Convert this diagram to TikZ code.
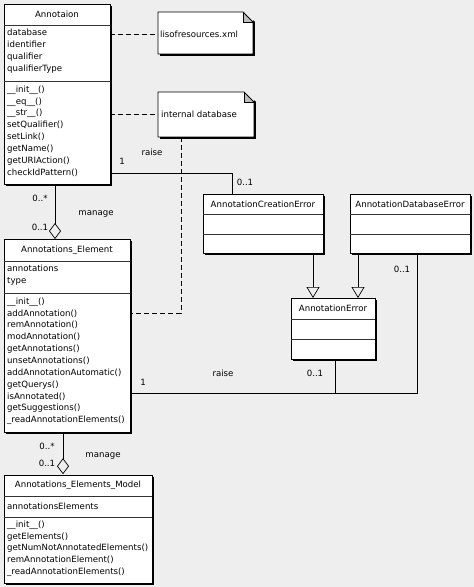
\documentclass[tikz,border=0pt]{standalone}
\usepackage{fontspec}
\setmainfont{DejaVu Sans}
\usetikzlibrary{arrows.meta}
\definecolor{bg}{RGB}{238,238,238}
\definecolor{foldgray}{RGB}{190,190,190}
\tikzset{
  box/.style={draw=black, fill=white, line width=0.8pt, anchor=north west, inner sep=0pt, outer sep=0pt},
  sepline/.style={draw=black!80, line width=0.7pt},
  txt/.style={font=\fontsize{8.6}{11.85}\selectfont, inner sep=0pt, align=left, anchor=west},
  ttl/.style={font=\fontsize{8.6}{11.85}\selectfont, inner sep=0pt},
  lbl/.style={font=\fontsize{8.6}{11.85}\selectfont, inner sep=0pt},
  assoc/.style={draw=black, line width=0.7pt},
  dashedlink/.style={draw=black, line width=0.7pt, dash pattern=on 5pt off 3pt},
  gen/.style={assoc, -{Triangle[open, width=13pt, length=11pt, line width=0.7pt]}},
  agg/.style={assoc, -{Diamond[open, width=12pt, length=16pt, line width=0.7pt]}},
}
\newcommand\umlbox[5]{%
  \fill[black] (#2+2.2,#3+2.2) rectangle (#4+2.2,#5+2.2);
  \node[box, minimum width={(#4-#2)*1pt}, minimum height={(#5-#3)*1pt}] (#1) at (#2,#3) {};
}
\newcommand\umlnote[5]{%
  \fill[black] (#2+2.2,#3+2.2) rectangle (#4+2.2,#5+2.2);
  \node[box, draw=none, minimum width={(#4-#2)*1pt}, minimum height={(#5-#3)*1pt}] (#1) at (#2,#3) {};
  \fill[bg] (#4-10,#3) -- (#4+2.5,#3) -- (#4+2.5,#3+10) -- cycle;
  \fill[foldgray] (#4-10,#3) -- (#4-10,#3+10) -- (#4,#3+10) -- cycle;
  \draw[line width=0.8pt] (#2,#3) -- (#4-10,#3) -- (#4,#3+10) -- (#4,#5) -- (#2,#5) -- cycle;
  \draw[line width=0.7pt] (#4-10,#3) -- (#4-10,#3+10) -- (#4,#3+10);
}
\begin{document}
\begin{tikzpicture}[x=1pt, y=-1pt]
\fill[bg] (0,0) rectangle (474,587);
\useasboundingbox (0,0) rectangle (474,587);

% ---------- Annotaion ----------
\umlbox{ann}{4}{4}{110}{184}
\node[ttl] (ann-t) at (57,14) {Annotaion};
\draw[sepline] (4,25) -- (110,25);
\node[txt, anchor=north west] (ann-a) at (7,29) {database\\identifier\\qualifier\\qualifierType};
\draw[sepline] (4,81) -- (110,81);
\node[txt, anchor=north west] (ann-m) at (7,85.5) {\_\_init\_\_()\\\_\_eq\_\_()\\\_\_str\_\_()\\setQualifier()\\setLink()\\getName()\\getURIAction()\\checkIdPattern()};

% ---------- Notes ----------
\umlnote{n1}{158}{12}{253}{54}
\node[txt] (n1-t) at (160,34) {lisofresources.xml};
\umlnote{n2}{158}{92}{254}{137}
\node[txt] (n2-t) at (161,114) {internal database};

% ---------- Annotations_Element ----------
\umlbox{ael}{4}{239}{130}{432}
\node[ttl] (ael-t) at (67,250) {Annotations\_Element};
\draw[sepline] (4,261) -- (130,261);
\node[txt, anchor=north west] (ael-a) at (7,264.5) {annotations\\type};
\draw[sepline] (4,293) -- (130,293);
\node[txt, anchor=north west] (ael-m) at (7,297.5) {\_\_init\_\_()\\addAnnotation()\\remAnnotation()\\modAnnotation()\\getAnnotations()\\unsetAnnotations()\\addAnnotationAutomatic()\\getQuerys()\\isAnnotated()\\getSuggestions()\\\_readAnnotationElements()};

% ---------- Annotations_Elements_Model ----------
\umlbox{aem}{4}{475}{152}{583}
\node[ttl] (aem-t) at (78,485) {Annotations\_Elements\_Model};
\draw[sepline] (4,496) -- (152,496);
\node[txt] (aem-a) at (7,506) {annotationsElements};
\draw[sepline] (4,517) -- (152,517);
\node[txt, anchor=north west] (aem-m) at (7,520.5) {\_\_init\_\_()\\getElements()\\getNumNotAnnotatedElements()\\remAnnotationElement()\\\_readAnnotationElements()};

% ---------- Errors ----------
\umlbox{ace}{203}{194}{323}{253}
\node[ttl] (ace-t) at (263,204) {AnnotationCreationError};
\draw[sepline] (203,214) -- (323,214);
\draw[sepline] (203,234) -- (323,234);

\umlbox{ade}{350}{194}{470}{253}
\node[ttl] (ade-t) at (410,204) {AnnotationDatabaseError};
\draw[sepline] (350,214) -- (470,214);
\draw[sepline] (350,234) -- (470,234);

\umlbox{aer}{291}{298}{375}{359}
\node[ttl] (aer-t) at (333,308) {AnnotationError};
\draw[sepline] (291,319) -- (375,319);
\draw[sepline] (291,339) -- (375,339);

% ---------- Connectors ----------
\draw[dashedlink] (ann.east |- n1-t) -- (n1.west |- n1-t);
\draw[dashedlink] (ann.east |- n2-t) -- (n2.west |- n2-t);
\coordinate (dk) at (181,313);
\draw[dashedlink] (n2.south -| dk) -- (dk) -- (ael.east |- dk);

\coordinate (r1) at (232,173);
\draw[assoc] (ann.east |- r1) -- (r1) -- (ace.north -| r1);

\coordinate (r2) at (417,393);
\coordinate (r3) at (335,393);
\draw[assoc] (ael.east |- r2) -- (r2) -- (ade.south -| r2);
\draw[assoc] (aer.south -| r3) -- (r3);

\coordinate (g1) at (313,0);
\coordinate (g2) at (358,0);
\draw[gen] (ace.south -| g1) -- (aer.north -| g1);
\draw[gen] (ade.south -| g2) -- (aer.north -| g2);

\coordinate (m1) at (55,0);
\coordinate (m2) at (63,0);
\draw[agg] (ann.south -| m1) -- (ael.north -| m1);
\draw[agg] (ael.south -| m2) -- ([yshift=0.8pt]aem.north -| m2);

% ---------- Labels ----------
\node[lbl] (l1) at (122,161) {1};
\node[lbl] (l2) at (152,152) {raise};
\node[lbl] (l3) at (245,182) {0..1};
\node[lbl] (l4) at (402,269) {0..1};
\node[lbl] (l5) at (143,382) {1};
\node[lbl] (l6) at (223,373) {raise};
\node[lbl] (l7) at (315,373) {0..1};
\node[lbl] (l8) at (40,198) {0..*};
\node[lbl] (l9) at (96,214) {manage};
\node[lbl] (l10) at (40,227) {0..1};
\node[lbl] (l11) at (47,446) {0..*};
\node[lbl] (l12) at (47,463) {0..1};
\node[lbl] (l13) at (103,456) {manage};
\end{tikzpicture}
\end{document}
